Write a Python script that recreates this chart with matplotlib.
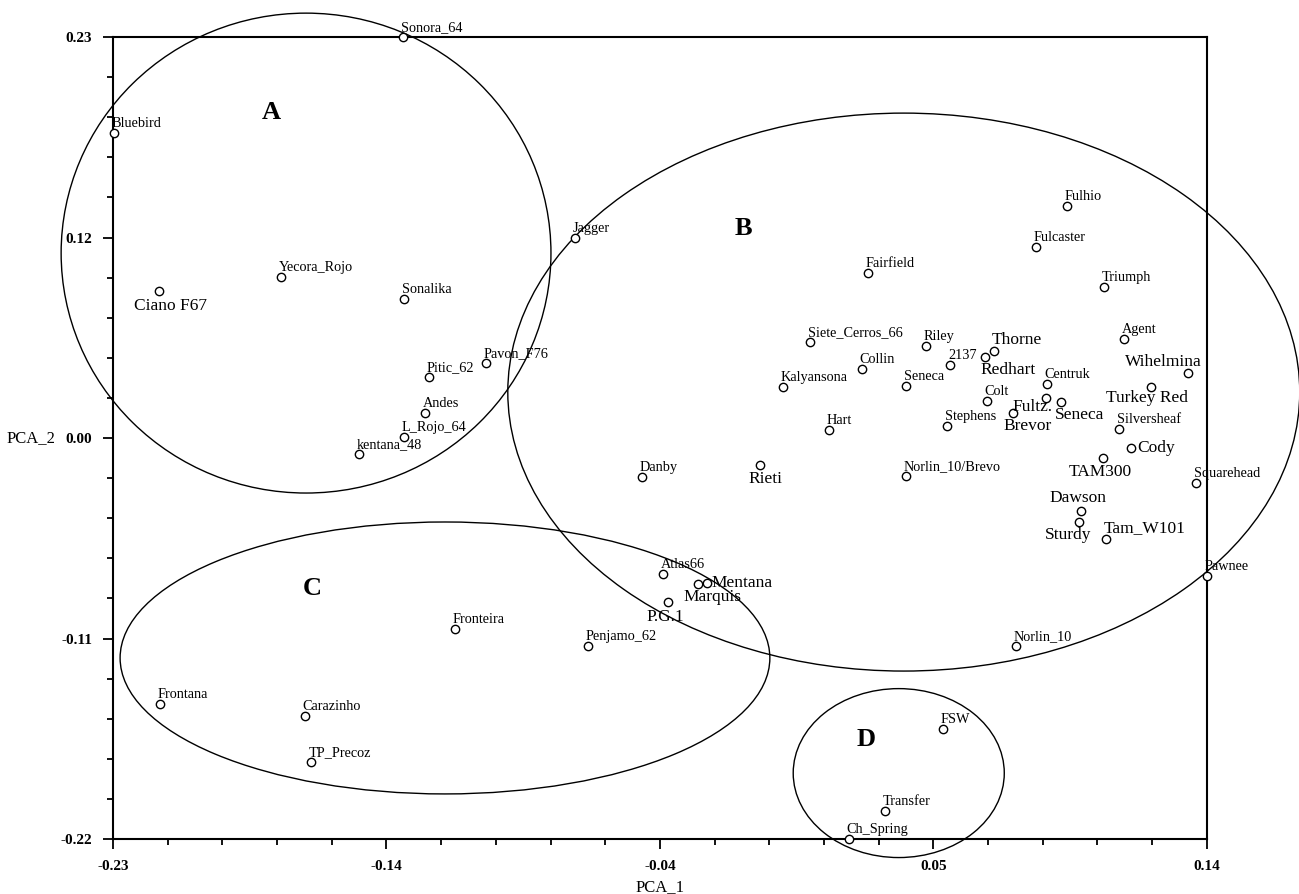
import matplotlib
matplotlib.use("Agg")
from matplotlib import pyplot as plt
from matplotlib.patches import Ellipse
from matplotlib.ticker import AutoMinorLocator
import numpy as np

# cultivar scores on the first two principal components
names = ["Sonora_64", "Bluebird", "Yecora_Rojo", "Ciano F67", "Sonalika", "Jagger",
         "Pitic_62", "Pavon_F76", "Andes", "L_Rojo_64", "kentana_48",
         "Fulhio", "Fulcaster", "Fairfield", "Triumph", "Siete_Cerros_66", "Riley",
         "Thorne", "Redhart", "2137", "Collin", "Kalyansona", "Seneca", "Centruk",
         "Agent", "Wihelmina", "Colt", "Fultz.", "Brevor", "Seneca ", "Turkey Red",
         "Silversheaf", "Cody", "TAM300", "Stephens", "Hart", "Danby", "Rieti",
         "Norlin_10/Brevo", "Squarehead", "Dawson", "Sturdy", "Tam_W101", "Pawnee",
         "Atlas66", "Mentana", "Marquis", "P.G.1", "Norlin_10",
         "Fronteira", "Penjamo_62", "Frontana", "Carazinho", "TP_Precoz",
         "FSW", "Transfer", "Ch_Spring"]
pca_1 = [-0.132, -0.2297, -0.1732, -0.2144, -0.1316, -0.0737,
         -0.1231, -0.1038, -0.1245, -0.1316, -0.1468,
         0.0927, 0.0822, 0.0253, 0.1052, 0.0057, 0.0450,
         0.0680, 0.0649, 0.0531, 0.0233, -0.0034, 0.0382, 0.0859,
         0.1119, 0.1336, 0.0656, 0.0855, 0.0744, 0.0906, 0.1211,
         0.1102, 0.1143, 0.1048, 0.0521, 0.0122, -0.0511, -0.0112,
         0.0382, 0.1363, 0.0974, 0.0967, 0.1058, 0.1400,
         -0.0440, -0.0291, -0.0321, -0.0423, 0.0754,
         -0.1143, -0.0693, -0.2141, -0.1651, -0.1630,
         0.0507, 0.0311, 0.0189]
pca_2 = [0.2300, 0.1761, 0.0953, 0.0875, 0.0830, 0.1172,
         0.0392, 0.0471, 0.0190, 0.0056, -0.0040,
         0.1352, 0.1122, 0.0976, 0.0897, 0.0589, 0.0566,
         0.0538, 0.0505, 0.0460, 0.0437, 0.0336, 0.0342, 0.0353,
         0.0606, 0.0415, 0.0258, 0.0274, 0.0190, 0.0252, 0.0336,
         0.0100, -0.0006, -0.0062, 0.0117, 0.0095, -0.0169, -0.0101,
         -0.0163, -0.0203, -0.0360, -0.0421, -0.0517, -0.0724,
         -0.0713, -0.0764, -0.0769, -0.0870, -0.1117,
         -0.1022, -0.1117, -0.1443, -0.1510, -0.1768,
         -0.1583, -0.2043, -0.2200]

# cluster ellipses
groups = ["A", "B", "C", "D"]
group_label_x = [-0.1766, -0.0169, -0.1627, 0.0247]
group_label_y = [0.1879, 0.1228, -0.0792, -0.1639]
ellipse_x = [-0.1647, 0.0375, -0.1177, 0.0358]
ellipse_y = [0.1088, 0.0308, -0.1184, -0.1830]
ellipse_w = [0.1657, 0.2679, 0.2198, 0.0714]
ellipse_h = [0.2693, 0.3131, 0.1526, 0.0948]

x_tick_labels = ["-0.23", "-0.14", "-0.04", "0.05", "0.14"]
y_tick_labels = ["-0.22", "-0.11", "0.00", "0.12", "0.23"]

# labels drawn in the larger font, and labels not placed above-right
big_labels = {"Ciano F67", "Thorne", "Redhart", "Wihelmina", "Fultz.", "Brevor",
              "Seneca ", "Turkey Red", "Cody", "TAM300", "Rieti", "Dawson",
              "Sturdy", "Tam_W101", "Mentana", "Marquis", "P.G.1"}
label_place = {
    "Ciano F67": (11, -7, "center", "top"),
    "Redhart": (-4, -5, "left", "top"),
    "Wihelmina": (14, 3, "right", "bottom"),
    "Fultz.": (7, -9, "right", "center"),
    "Brevor": (-9, -5, "left", "top"),
    "Seneca ": (-6, -5, "left", "top"),
    "Turkey Red": (-4, -3, "center", "top"),
    "Cody": (6, 0, "left", "center"),
    "TAM300": (-2, -6, "center", "top"),
    "Rieti": (6, -6, "center", "top"),
    "Dawson": (-3, 5, "center", "bottom"),
    "Sturdy": (13, -5, "right", "top"),
    "Mentana": (5, 0, "left", "center"),
    "Marquis": (-15, -5, "left", "top"),
    "P.G.1": (-3, -7, "center", "top"),
}

plt.rcParams["font.family"] = ["Liberation Serif", "DejaVu Serif"]

fig = plt.figure(figsize=(12.99, 8.94), dpi=100)
ax = fig.add_axes([0.087, 0.0615, 0.842, 0.897])

for i in range(len(groups)):
    ax.add_patch(Ellipse((ellipse_x[i], ellipse_y[i]), ellipse_w[i], ellipse_h[i],
                         fill=False, edgecolor="black", linewidth=1.0, clip_on=False, zorder=2))
    ax.text(group_label_x[i], group_label_y[i], groups[i], fontsize=19, fontweight="bold",
            ha="center", va="center")

ax.scatter(pca_1, pca_2, s=36, facecolors="white", edgecolors="black",
           linewidths=1.0, clip_on=False, zorder=4)

for name, x, y in zip(names, pca_1, pca_2):
    dx, dy, ha, va = label_place.get(name, (-2, 3, "left", "bottom"))
    size = 12.5 if name in big_labels else 10.3
    ax.annotate(name.strip(), (x, y), xytext=(dx, dy), textcoords="offset pixels",
                ha=ha, va=va, fontsize=size, zorder=5, annotation_clip=False)

ax.set_xlim(-0.23, 0.14)
ax.set_ylim(-0.22, 0.23)
ax.set_xticks(np.linspace(-0.23, 0.14, 5))
ax.set_xticklabels(x_tick_labels)
ax.set_yticks(np.linspace(-0.22, 0.23, 5))
ax.set_yticklabels(y_tick_labels)
ax.xaxis.set_minor_locator(AutoMinorLocator(5))
ax.yaxis.set_minor_locator(AutoMinorLocator(5))
ax.tick_params(which="major", direction="out", length=7, width=1.3, pad=8,
               labelsize=11)
ax.tick_params(which="minor", direction="out", length=4.5, width=1.3)
for lbl in ax.get_xticklabels() + ax.get_yticklabels():
    lbl.set_fontweight("bold")
for sp in ax.spines.values():
    sp.set_linewidth(1.5)

ax.set_xlabel("PCA_1", fontsize=12)
ax.xaxis.set_label_coords(0.5, -0.05)
ax.set_ylabel("PCA_2", fontsize=12, rotation=0, ha="left", va="center")
ax.yaxis.set_label_coords(-0.097, 0.5)

fig.savefig("out.png", dpi=100)
